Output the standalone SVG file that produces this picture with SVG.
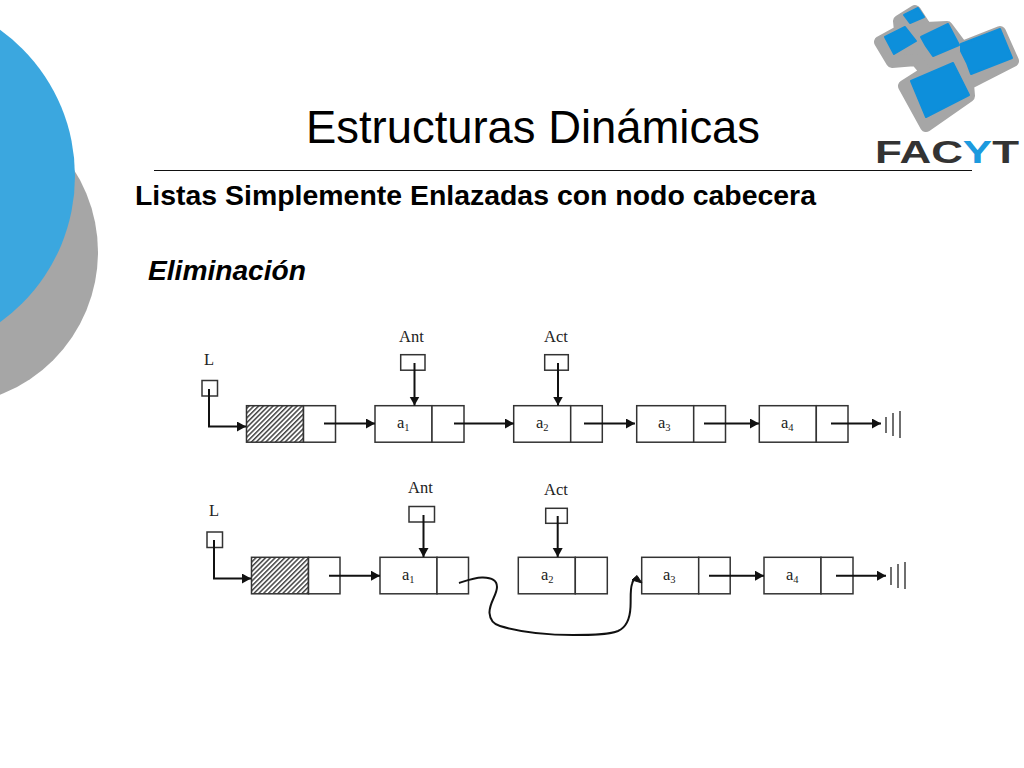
<svg xmlns="http://www.w3.org/2000/svg" width="1024" height="768" viewBox="0 0 1024 768">
<style>
.sans{font-family:"Liberation Sans",Arial,sans-serif;fill:#000}
.ser{font-family:"Liberation Serif","Times New Roman",serif;font-size:16.5px;fill:#222}
.box{fill:#fff;stroke:#333;stroke-width:1.5}
.hat{fill:url(#hatch);stroke:#333;stroke-width:1.5}
.con{fill:none;stroke:#111;stroke-width:2}
.arr{marker-end:url(#ah)}
.sub{font-size:10.5px}
.tm{fill:none;stroke:#333;stroke-width:1.4}
.lb{fill:#0d8fdb;stroke:#0d8fdb;stroke-width:2;stroke-linejoin:round}
</style>
<defs>
<marker id="ah" markerUnits="userSpaceOnUse" markerWidth="12" markerHeight="12" refX="9" refY="5" orient="auto">
<path d="M0 0L9 5L0 10z" fill="#111"/>
</marker>
<pattern id="hatch" patternUnits="userSpaceOnUse" width="3.4" height="3.4" patternTransform="rotate(-45)">
<rect width="3.4" height="3.4" fill="#fff"/>
<rect width="3.4" height="1.5" fill="#444"/>
</pattern>
</defs>
<rect width="1024" height="768" fill="#fff"/>
<g id="background">
<circle cx="-55" cy="252" r="153" fill="#a6a6a6"/>
<circle cx="-105" cy="176" r="180" fill="#3ba7df"/>
</g>
<g id="logo">
<path d="M915 11L926 28L947 27L962 47L1000 32L1013 61L968 84L969 96L926 126L904 86L926 72L916 60L892 62L880 42L900 31L899 21Z" fill="#a6a6a6" stroke="#a6a6a6" stroke-width="12" stroke-linejoin="round"/>
<path class="lb" d="M904 15L918 8L924 17L910 23Z"/>
<path class="lb" d="M885 37L905 27L916 41L894 54Z"/>
<path class="lb" d="M921 37L948 24L959 45L933 56L926 46Z"/>
<path class="lb" d="M961 44L1000 29L1012 58L971 74L967 63L961 51Z"/>
<path class="lb" d="M911 81L953 63L969 95L926 117Z"/>
<text class="sans" x="875" y="163" font-size="31" font-weight="700" textLength="144" lengthAdjust="spacingAndGlyphs" style="fill:#333">FAC<tspan style="fill:#1c9ade">Y</tspan>T</text>
</g>
<g id="title">
<text class="sans" x="306" y="143" font-size="45.4">Estructuras Dinámicas</text>
<line x1="154" y1="170.5" x2="972" y2="170.5" stroke="#111" stroke-width="1.2"/>
<text class="sans" x="135" y="204.5" font-size="28.4" font-weight="700" textLength="681" lengthAdjust="spacingAndGlyphs">Listas Simplemente Enlazadas con nodo cabecera</text>
<text class="sans" x="148" y="280" font-size="28.2" font-weight="700" font-style="italic" textLength="158" lengthAdjust="spacingAndGlyphs">Eliminación</text>
</g>
<g id="row1-nodes">
<g id="r1-L"><text class="ser" x="204" y="365">L</text><rect class="box" x="202" y="380.5" width="15.5" height="15.5"/></g>
<g id="r1-Ant"><text class="ser" x="399" y="341.5">Ant</text><rect class="box" x="400.7" y="354.7" width="24.3" height="15.5"/></g>
<g id="r1-Act"><text class="ser" x="544" y="341.5">Act</text><rect class="box" x="544.7" y="354.7" width="23.6" height="15.5"/></g>
<g id="r1-head"><rect class="hat" x="246.5" y="405.7" width="57" height="36.5"/><rect class="box" x="303.5" y="405.7" width="32" height="36.5"/></g>
<g id="r1-a1"><rect class="box" x="375" y="405.7" width="57" height="36.5"/><rect class="box" x="432" y="405.7" width="32" height="36.5"/><text class="ser" x="397" y="428">a<tspan class="sub" dy="3">1</tspan></text></g>
<g id="r1-a2"><rect class="box" x="513.7" y="405.7" width="57" height="36.5"/><rect class="box" x="570.7" y="405.7" width="31.6" height="36.5"/><text class="ser" x="536" y="428">a<tspan class="sub" dy="3">2</tspan></text></g>
<g id="r1-a3"><rect class="box" x="636.7" y="405.7" width="57" height="36.5"/><rect class="box" x="693.7" y="405.7" width="31.8" height="36.5"/><text class="ser" x="658" y="428">a<tspan class="sub" dy="3">3</tspan></text></g>
<g id="r1-a4"><rect class="box" x="759.3" y="405.7" width="57" height="36.5"/><rect class="box" x="816.3" y="405.7" width="31.7" height="36.5"/><text class="ser" x="781" y="428">a<tspan class="sub" dy="3">4</tspan></text></g>
<g id="r1-null"><path class="tm" d="M886 417V433M893 413V436M900 411V438"/></g>
</g>
<g id="row2-nodes">
<g id="r2-L"><text class="ser" x="209" y="516">L</text><rect class="box" x="207" y="532" width="15.5" height="15.5"/></g>
<g id="r2-Ant"><text class="ser" x="408" y="492.5">Ant</text><rect class="box" x="409" y="506.5" width="25.5" height="15.5"/></g>
<g id="r2-Act"><text class="ser" x="544" y="494.5">Act</text><rect class="box" x="545.7" y="508.3" width="21.6" height="15"/></g>
<g id="r2-head"><rect class="hat" x="251.5" y="557.3" width="57" height="36.5"/><rect class="box" x="308.5" y="557.3" width="31.5" height="36.5"/></g>
<g id="r2-a1"><rect class="box" x="380" y="557.3" width="57" height="36.5"/><rect class="box" x="437" y="557.3" width="31.5" height="36.5"/><text class="ser" x="402" y="580">a<tspan class="sub" dy="3">1</tspan></text></g>
<g id="r2-a2"><rect class="box" x="518.3" y="557.3" width="57" height="36.5"/><rect class="box" x="575.3" y="557.3" width="32" height="36.5"/><text class="ser" x="541" y="580">a<tspan class="sub" dy="3">2</tspan></text></g>
<g id="r2-a3"><rect class="box" x="641.7" y="557.3" width="57" height="36.5"/><rect class="box" x="698.7" y="557.3" width="31.5" height="36.5"/><text class="ser" x="663" y="580">a<tspan class="sub" dy="3">3</tspan></text></g>
<g id="r2-a4"><rect class="box" x="764" y="557.3" width="57" height="36.5"/><rect class="box" x="821" y="557.3" width="32" height="36.5"/><text class="ser" x="786" y="580">a<tspan class="sub" dy="3">4</tspan></text></g>
<g id="r2-null"><path class="tm" d="M891 567V585M898 564V588M905 562V589"/></g>
</g>
<g id="connectors">
<path class="con arr" d="M209 389V426.5H246"/>
<path class="con arr" d="M414.5 363V405.5"/>
<path class="con arr" d="M558 363V405.5"/>
<path class="con arr" d="M324 423.5H375"/>
<path class="con arr" d="M454 423.5H514"/>
<path class="con arr" d="M584 423.5H635"/>
<path class="con arr" d="M704 423.5H759"/>
<path class="con arr" d="M831 423.5H881"/>
<path class="con arr" d="M214 540V578.5H251"/>
<path class="con arr" d="M423.5 515V557"/>
<path class="con arr" d="M557.7 516V557"/>
<path class="con arr" d="M329 575.7H380"/>
<path class="con arr" d="M709 575.7H764"/>
<path class="con arr" d="M836 575.7H886"/>
<path class="con" d="M459 583C468 580 476 577 483 577.5C492 578 497 580 497 587C497 595 489 603 489.5 613C490 620 493 624 500 626C520 632 545 635 573 635C590 635 608 635 618 631C627 627 630 618 630.5 607C631 598 630 590 632 584C633 580 635 578 637 578"/>
<path d="M642 583L637 575.5L632 580Z" fill="#111" stroke="#111" stroke-width="1"/>
</g>
</svg>
